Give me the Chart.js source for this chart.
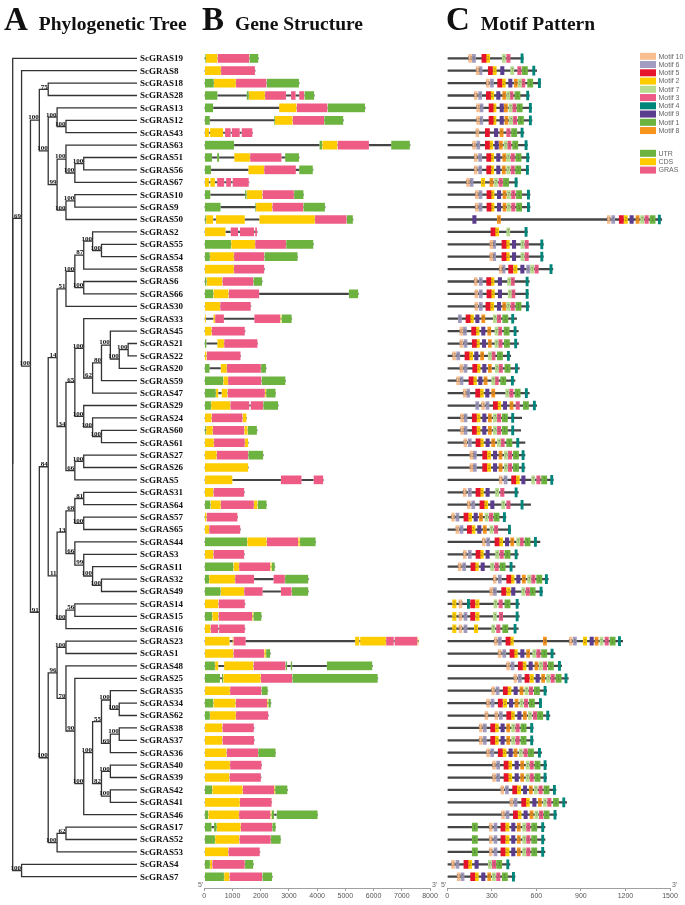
<!DOCTYPE html>
<html>
<head>
<meta charset="utf-8">
<script src="https://cdn.jsdelivr.net/npm/chart.js@4.4.1/dist/chart.umd.min.js"></script>
<style>
  body { margin: 0; background: #fff; width: 685px; height: 905px; position: relative; overflow: hidden; }
  canvas { position: absolute; top: 0; }
  .ttl { position: absolute; top: 0px; font-family: "Liberation Serif", serif; font-weight: bold; color: #111; white-space: nowrap; line-height: 38px; z-index: 2; }
  .ttl .big { font-size: 33px; }
  .ttl .sub { font-size: 19.5px; margin-left: 11px; }
</style>
</head>
<body>
<div class="ttl" style="left:4px"><span class="big">A</span><span class="sub">Phylogenetic Tree</span></div>
<div class="ttl" style="left:202px"><span class="big">B</span><span class="sub">Gene Structure</span></div>
<div class="ttl" style="left:446px"><span class="big">C</span><span class="sub">Motif Pattern</span></div>

<canvas id="tree" width="200" height="905" style="left:0"></canvas>
<canvas id="gene" width="255" height="905" style="left:185px"></canvas>
<canvas id="motif" width="245" height="905" style="left:440px"></canvas>

<script>
// tree topology with bootstrap values
const treeNewick = "(ScGRAS19,(ScGRAS8,(((ScGRAS18,ScGRAS28)75,((ScGRAS13,(ScGRAS12,ScGRAS43)100)100,((ScGRAS63,((ScGRAS51,ScGRAS56)100,ScGRAS67)100)100,((ScGRAS10,ScGRAS9)100,ScGRAS50)100)99)100)100,(((((((ScGRAS2,(ScGRAS55,ScGRAS54)100)100,ScGRAS58)87,(ScGRAS6,ScGRAS66)100)100,ScGRAS30)51,(((ScGRAS33,(((ScGRAS45,((ScGRAS21,ScGRAS22)100,ScGRAS20)100)100,ScGRAS59)80,ScGRAS47)62)100,(ScGRAS29,(ScGRAS24,(ScGRAS60,ScGRAS61)100)100)100)65,((ScGRAS27,ScGRAS26)100,ScGRAS5)66)34)14,((((ScGRAS31,ScGRAS64)81,(ScGRAS57,ScGRAS65)100)68,(ScGRAS44,(ScGRAS3,(ScGRAS11,(ScGRAS32,ScGRAS49)100)100)99)66)13,((ScGRAS14,ScGRAS15)56,ScGRAS16)100)11)84,(((ScGRAS23,ScGRAS1)100,(ScGRAS48,(ScGRAS25,((((ScGRAS35,(ScGRAS34,ScGRAS62)100)100,((ScGRAS38,ScGRAS37)100,ScGRAS36)69)55,((ScGRAS40,ScGRAS39)100,(ScGRAS42,ScGRAS41)100)82)100,ScGRAS46)100)90)70)96,((ScGRAS17,ScGRAS52)62,ScGRAS53)100)100)91)100)69,(ScGRAS4,ScGRAS7)100);";

// rows, top to bottom
const geneNames = ['ScGRAS19','ScGRAS8','ScGRAS18','ScGRAS28','ScGRAS13','ScGRAS12','ScGRAS43','ScGRAS63','ScGRAS51','ScGRAS56',
  'ScGRAS67','ScGRAS10','ScGRAS9','ScGRAS50','ScGRAS2','ScGRAS55','ScGRAS54','ScGRAS58','ScGRAS6','ScGRAS66',
  'ScGRAS30','ScGRAS33','ScGRAS45','ScGRAS21','ScGRAS22','ScGRAS20','ScGRAS59','ScGRAS47','ScGRAS29','ScGRAS24',
  'ScGRAS60','ScGRAS61','ScGRAS27','ScGRAS26','ScGRAS5','ScGRAS31','ScGRAS64','ScGRAS57','ScGRAS65','ScGRAS44',
  'ScGRAS3','ScGRAS11','ScGRAS32','ScGRAS49','ScGRAS14','ScGRAS15','ScGRAS16','ScGRAS23','ScGRAS1','ScGRAS48',
  'ScGRAS25','ScGRAS35','ScGRAS34','ScGRAS62','ScGRAS38','ScGRAS37','ScGRAS36','ScGRAS40','ScGRAS39','ScGRAS42',
  'ScGRAS41','ScGRAS46','ScGRAS17','ScGRAS52','ScGRAS53','ScGRAS4','ScGRAS7'];

// exon models in bp: U = UTR, C = CDS, G = GRAS domain
const exonModels = [
  'U0-50 C50-470 G470-1600 U1600-1920',
  'C0-590 G590-1800',
  'U0-340 C340-1120 G1120-2210 U2210-3360',
  'U0-470 U1500-1580 C1580-2150 G2150-2900 G3070-3240 G3360-3550 U3550-3900',
  'U0-320 C2650-3270 G3270-4370 U4370-5700',
  'U0-200 U2480-2500 C2500-3130 G3130-4250 U4250-4930',
  'C0-170 C200-670 G730-940 G970-1260 G1320-1710',
  'U0-1060 U4080-4180 C4180-4720 G4720-5840 U6620-7290',
  'U0-280 U450-530 C1060-1620 G1620-2740 U2860-3360',
  'U0-240 C1560-2120 G2120-3250 U3360-3850',
  'C0-170 C210-380 G450-710 G770-950 G1000-1580',
  'U0-220 U1440-1500 C1500-2060 G2060-3180 U3180-3520',
  'U0-580 U1800-1830 C1830-2410 G2410-3510 U3510-4280',
  'U0-60 C60-320 C410-1440 C1950-3920 G3920-5050 U5050-5270',
  'C0-760 G930-1200 G1260-1770 G1800-1870',
  'U0-950 C950-1800 G1800-2900 U2900-3870',
  'U0-200 C200-1050 G1050-2130 U2130-3310',
  'C0-1050 G1050-2130',
  'U0-80 C80-640 G640-1740 U1740-2050',
  'U0-320 C320-860 G860-1950 U5120-5460',
  'C0-560 G560-1650',
  'C0-60 C320-380 G380-700 G1770-2700 C2700-2740 U2740-3100',
  'C0-260 G260-1440',
  'U0-80 C460-700 G700-1890',
  'C0-80 G80-1290',
  'U0-190 C580-800 G800-2010 U2010-2190',
  'U0-670 C670-840 G840-2030 U2030-2880',
  'U0-410 C410-500 C610-820 G820-2150 C2150-2190 U2190-2530',
  'U0-240 C240-920 G920-1600 G1640-2090 U2090-2620',
  'C0-260 G260-1360 C1360-1500',
  'U0-60 C60-300 G300-1420 C1420-1540 U1540-1870',
  'C0-340 G340-1440 C1440-1560',
  'C0-440 G440-1560 U1560-2090',
  'C0-1560',
  'C0-1000 G2710-3450 G3870-4220',
  'C0-320 G320-1420',
  'U0-220 C220-580 G580-1760 C1760-1890 U1890-2210',
  'C0-80 G80-1180',
  'C0-170 G170-1280',
  'U0-1520 C1520-2210 G2210-3330 C3330-3390 U3390-3950',
  'C0-320 G320-1420',
  'U0-1030 C1030-1230 G1230-2340 C2340-2390 U2390-2500',
  'U0-170 C170-1090 G1090-1770 G2450-2860 U2860-3690',
  'U0-580 C580-1410 G1410-2070 G2710-3100 U3100-3690',
  'C0-500 G500-1440',
  'U0-280 C280-500 G500-1700 C1700-1740 U1740-2030',
  'C0-220 G220-500 G520-1440',
  'C0-900 C1000-1030 G1030-1470 C5340-5500 C5520-6440 G6440-6720 G6740-7560 C7560-7590',
  'C0-1030 G1030-2130 C2130-2190 U2190-2340',
  'U0-380 C380-500 C700-1740 G1740-2880 U2880-2940 U3060-3120 U4340-5960',
  'U0-560 U620-670 C670-2000 G2000-3120 U3120-6150',
  'C0-910 G910-2030 U2030-2250',
  'U0-320 C320-1110 G1110-2230 C2230-2270 U2270-2360',
  'U0-200 C200-1120 G1120-2270',
  'C0-640 G640-1760',
  'C0-640 G640-1770',
  'C0-790 G790-1910 U1910-2530',
  'C0-910 G910-2030',
  'C0-890 G890-2010',
  'U0-280 C280-1360 G1360-2480 C2480-2510 U2510-2950',
  'C0-1260 G1260-2390',
  'U0-140 C140-1230 G1230-2350 C2350-2390 U2390-2480 U2560-4020',
  'U0-260 U340-440 C440-1290 G1290-2410 U2410-2530',
  'U0-380 C380-1240 G1240-2360 U2360-2710',
  'C0-850 G850-1970',
  'U0-200 C200-280 G280-1440 U1440-1740',
  'U0-700 C700-890 G890-2060 U2060-2410'
];

// protein length (aa)
const proteinLength = [512, 602, 629, 552, 568, 570, 516, 539, 552, 548,
  471, 557, 557, 1444, 539, 647, 647, 711, 552, 546,
  552, 467, 478, 480, 427, 485, 456, 552, 602, 501,
  494, 523, 523, 523, 714, 478, 561, 395, 427, 624,
  478, 456, 680, 642, 485, 485, 478, 1181, 725, 770,
  815, 669, 635, 691, 579, 579, 635, 669, 669, 732,
  804, 736, 658, 658, 658, 422, 456];

// motif id : start (aa)
const motifSites = [
  '10:144 6:169 5:233 2:262 7:370 3:400 4:496',
  '10:195 6:213 5:276 2:307 9:359 7:427 3:474 1:505 4:575',
  '10:263 6:290 5:339 2:368 9:413 8:451 7:478 3:500 1:541 4:613',
  '10:182 6:211 5:263 2:290 9:332 8:373 7:400 3:420 1:455 4:534',
  '10:198 6:220 5:281 2:305 9:355 8:384 7:415 3:440 1:470 4:552',
  '10:198 6:218 5:281 2:305 9:355 8:388 7:418 3:445 1:478 4:552',
  '10:193 5:256 9:317 8:355 3:400 1:433 4:496',
  '10:171 6:198 5:256 2:283 9:321 8:350 7:382 3:406 1:440 4:523',
  '10:182 6:211 5:265 2:290 9:332 8:373 7:400 3:429 1:462 4:534',
  '10:182 6:211 5:265 2:290 9:332 8:370 7:400 3:429 1:460 4:532',
  '10:130 6:153 2:229 8:287 7:317 3:348 1:378 4:456',
  '10:189 6:213 5:267 2:292 9:337 8:375 7:404 3:433 1:466 4:539',
  '10:189 6:213 5:267 2:292 9:337 8:375 7:404 3:433 1:466 4:539',
  '9:171 8:337 10:1078 6:1107 5:1158 2:1190 9:1230 8:1271 7:1302 3:1331 1:1365 4:1421',
  '5:294 2:323 7:400 4:523',
  '10:287 6:305 5:368 2:395 9:438 7:496 3:523 4:629',
  '10:287 6:305 5:368 2:395 9:438 7:496 3:523 4:629',
  '10:350 6:368 5:413 2:447 9:494 6:534 7:561 3:590 4:691',
  '10:182 6:215 5:265 2:292 9:343 7:406 3:429 4:530',
  '10:186 6:215 5:267 2:294 9:343 7:410 3:433 4:530',
  '10:186 6:215 5:260 2:290 9:337 8:373 7:400 3:429 1:462 4:532',
  '6:74 5:126 2:153 9:191 8:232 7:310 3:337 1:373 4:433',
  '10:85 6:108 5:164 2:191 9:231 8:272 7:321 3:343 1:382 4:449',
  '10:85 6:112 5:168 2:193 9:236 8:276 7:321 3:346 1:384 4:453',
  '10:36 6:63 5:119 2:148 9:184 8:224 7:276 3:299 1:337 4:404',
  '10:85 6:112 5:171 2:198 9:238 8:276 7:323 3:348 1:388 4:458',
  '10:63 6:85 5:146 2:173 9:211 8:247 7:299 3:321 1:359 4:431',
  '10:108 6:130 5:191 2:220 9:258 8:299 7:393 3:420 1:456 4:525',
  '6:191 10:231 6:260 5:310 2:337 9:377 8:422 3:463 1:512 4:579',
  '10:90 6:112 5:168 2:198 9:238 8:276 7:310 3:337 1:370 4:433',
  '10:90 6:112 5:168 2:198 9:238 8:276 7:310 3:337 1:370 4:433',
  '10:112 6:141 5:193 2:220 9:260 8:299 7:337 3:361 1:400 4:467',
  '10:153 6:175 5:238 2:269 9:310 8:348 7:384 3:411 1:445 4:503',
  '10:153 6:175 5:238 2:269 9:310 8:348 7:384 3:411 1:445 4:503',
  '10:350 6:382 5:433 2:462 9:501 7:568 3:602 1:635 4:696',
  '10:108 6:141 5:193 2:220 9:260 7:325 3:359 4:456',
  '10:135 6:164 5:220 2:249 9:292 7:366 3:400 4:496',
  '10:29 6:58 5:112 2:141 9:180 8:216 7:254 3:283 1:314 4:377',
  '10:58 6:85 5:135 2:164 9:204 8:242 7:287 3:317 4:411',
  '10:236 6:265 5:321 2:350 9:391 8:427 7:467 3:489 1:523 4:586',
  '10:108 6:141 5:193 2:220 9:260 7:325 3:355 1:388 4:456',
  '10:74 6:103 5:159 2:186 9:227 7:292 3:321 1:355 4:422',
  '10:310 6:343 5:400 2:427 9:467 8:505 7:541 3:568 1:602 4:660',
  '10:287 6:310 5:366 2:400 9:433 7:501 3:530 1:557 4:624',
  '2:36 10:79 4:135 5:157 2:191 7:314 3:348 1:388 4:463',
  '2:36 10:79 6:112 5:157 2:191 7:310 3:350 4:463',
  '2:36 10:79 6:112 2:182 7:299 3:332 1:373 4:449',
  '10:317 6:343 5:395 2:422 8:647 10:822 6:849 2:916 9:961 8:995 7:1028 3:1062 1:1096 4:1152',
  '10:343 6:373 5:422 2:449 9:494 8:534 7:575 3:602 1:635 4:698',
  '10:400 6:429 5:478 2:507 9:550 8:590 7:620 3:647 1:680 4:748',
  '10:449 6:478 5:523 2:557 9:597 8:635 7:669 3:698 1:732 4:792',
  '10:299 6:328 5:377 2:406 9:449 8:489 7:523 3:552 1:586 4:651',
  '10:265 6:294 5:343 2:377 9:418 8:456 7:489 3:519 1:552 4:620',
  '10:254 10:321 6:350 5:400 2:429 9:474 8:512 7:546 3:579 1:608 4:669',
  '10:216 6:242 5:292 2:321 9:361 8:400 7:433 3:462 1:496 4:561',
  '10:216 6:242 5:292 2:321 9:361 8:400 7:433 3:462 1:496 4:561',
  '10:265 6:292 5:343 2:373 9:415 8:449 7:485 3:516 1:546 4:613',
  '10:305 6:332 5:382 2:411 9:456 8:494 7:530 3:557 1:590 4:651',
  '10:305 6:332 5:382 2:411 9:456 8:494 7:530 3:557 1:590 4:651',
  '10:361 6:391 5:440 2:471 9:512 8:552 7:586 3:617 1:651 4:714',
  '10:422 6:449 5:501 2:530 9:575 8:613 7:647 3:676 1:714 4:777',
  '10:366 6:395 5:445 2:474 9:516 8:557 7:590 3:620 1:651 4:718',
  '1:168 10:283 6:314 5:361 2:393 9:433 8:471 7:507 3:534 1:568 4:635',
  '1:168 10:283 6:314 5:361 2:393 9:433 8:471 7:507 3:534 1:568 4:635',
  '1:168 10:283 6:314 5:361 2:393 9:433 8:471 7:507 3:534 1:568 4:635',
  '10:29 6:58 5:112 2:141 9:186 7:276 3:303 1:332 4:400',
  '10:67 6:92 5:157 2:186 9:231 8:272 7:303 3:332 1:370 4:438'
];

const motifIds = ['10', '6', '5', '2', '7', '3', '4', '9', '1', '8'];
const motifWidth = [19, 21, 28, 23, 21, 23, 15, 23, 35, 21]; // aa
const motifColors = ['#F9BE8F', '#A29DC0', '#E5132B', '#FFCC00', '#B7DC8E', '#EC5B86', '#00857A', '#5B3D8D', '#6DB33F', '#F7941D'];

const featureKeys = ['U', 'C', 'G'];
const featureNames = ['UTR', 'CDS', 'GRAS'];
const featureColors = ['#6DB33F', '#FFCC00', '#EE5B85'];

const geneTicks = [0, 1000, 2000, 3000, 4000, 5000, 6000, 7000, 8000];
const motifTicks = [0, 300, 600, 900, 1200, 1500];

// ---------- shared row axis ----------
const rowAxis = { type: 'linear', min: -0.5, max: 66.91, reverse: true, display: false, offset: false };
const rowOf = name => geneNames.indexOf(name);

// ---------- tree ----------
function parseNewick(s) {
  let i = 0;
  function node() {
    const n = { children: [], name: '', label: '' };
    if (s[i] === '(') {
      i++;
      n.children.push(node());
      while (s[i] === ',') { i++; n.children.push(node()); }
      i++;
    }
    let t = '';
    while (i < s.length && !',();'.includes(s[i])) t += s[i++];
    if (n.children.length) n.label = t; else n.name = t;
    return n;
  }
  return node();
}

const root = parseNewick(treeNewick);
let maxInner = 0;
(function depth(n, d) {
  n.depth = d;
  if (n.children.length) maxInner = Math.max(maxInner, d);
  n.children.forEach(c => depth(c, d + 1));
})(root, 0);
const tipLevel = maxInner + 1;

const leaves = [], inner = [];
(function place(n) {
  if (!n.children.length) {
    n.x = tipLevel; n.y = rowOf(n.name); leaves.push(n); return;
  }
  n.children.forEach(place);
  n.x = n.depth;
  n.y = (n.children[0].y + n.children[n.children.length - 1].y) / 2;
  inner.push(n);
})(root);

const treeSets = [];
(function edges(n) {
  n.children.forEach(c => {
    treeSets.push({
      data: [{ x: n.x, y: n.y }, { x: n.x, y: c.y }, { x: c.x, y: c.y }],
      showLine: true, borderColor: '#333', borderWidth: 1.3, pointRadius: 0,
      borderJoinStyle: 'miter', tension: 0, fill: false, clip: false
    });
    edges(c);
  });
})(root);

const treeText = {
  id: 'treeText',
  afterDatasetsDraw(chart) {
    const { ctx, scales: { x, y } } = chart;
    ctx.save();
    ctx.fillStyle = '#111';
    ctx.textBaseline = 'middle';
    ctx.font = 'bold 9px "Liberation Serif"';
    leaves.forEach(l => ctx.fillText(l.name, x.getPixelForValue(tipLevel) + 3, y.getPixelForValue(l.y) + 0.5));
    ctx.font = 'bold 7px "Liberation Serif"';
    ctx.textAlign = 'right';
    inner.forEach(n => {
      if (n.label) ctx.fillText(n.label, x.getPixelForValue(n.x) - 0.5, y.getPixelForValue(n.y) - 2.5);
    });
    ctx.restore();
  }
};

new Chart(document.getElementById('tree'), {
  type: 'scatter',
  data: { datasets: treeSets },
  options: {
    responsive: false,
    animation: false,
    layout: { padding: { left: 12.7, right: 63, top: 52.1, bottom: 17 } },
    plugins: { legend: { display: false }, tooltip: { enabled: false } },
    scales: {
      x: { type: 'linear', min: 0, max: tipLevel, display: false },
      y: rowAxis
    }
  },
  plugins: [treeText]
});

// ---------- helpers for the two bar panels ----------
function bottomAxis(max, ticks) {
  return {
    type: 'linear', min: 0, max: max,
    afterBuildTicks: a => { a.ticks = ticks.map(v => ({ value: v })); },
    afterFit: a => { a.height = 17; a.paddingLeft = 0; a.paddingRight = 0; },
    ticks: {
      color: '#555', font: { size: 7, family: '"Liberation Sans", Arial' }, padding: 1,
      maxRotation: 0, autoSkip: false, callback: v => String(v)
    },
    grid: { drawOnChartArea: false, drawTicks: true, tickLength: 3, color: '#a0a0a0' },
    border: { color: '#a0a0a0', width: 1 }
  };
}

const endLabels = {
  id: 'endLabels',
  afterDraw(chart) {
    const { ctx, scales: { x } } = chart;
    ctx.save();
    ctx.fillStyle = '#666';
    ctx.font = '7px "Liberation Sans", Arial';
    ctx.textBaseline = 'bottom';
    ctx.textAlign = 'right';
    ctx.fillText("5'", x.left - 1, x.top + 1);
    ctx.textAlign = 'left';
    ctx.fillText("3'", x.right + 2, x.top + 1);
    ctx.restore();
  }
};

// ---------- gene structure ----------
const exonParsed = exonModels.map(m => m.split(' ').map(t => {
  const [s, e] = t.slice(1).split('-').map(Number);
  return { type: t[0], s, e };
}));

const geneSets = [{
  label: 'intron',
  data: exonParsed.map((segs, i) => ({ x: [0, Math.max(...segs.map(g => g.e))], y: i })),
  backgroundColor: '#444', barThickness: 1.4, grouped: false, order: 10
}];
featureKeys.forEach((k, f) => {
  const data = [];
  exonParsed.forEach((segs, i) => segs.forEach(g => { if (g.type === k) data.push({ x: [g.s, g.e], y: i }); }));
  geneSets.push({
    label: featureNames[f], data,
    backgroundColor: featureColors[f], borderColor: 'rgba(255,255,255,0.45)', borderWidth: 0.5,
    borderSkipped: false, barThickness: 9, grouped: false, order: 1
  });
});

new Chart(document.getElementById('gene'), {
  type: 'bar',
  data: { datasets: geneSets },
  options: {
    indexAxis: 'y',
    responsive: false,
    animation: false,
    layout: { padding: { left: 19.3, right: 10, top: 52.1, bottom: 0 } },
    plugins: { legend: { display: false }, tooltip: { enabled: false } },
    scales: { x: bottomAxis(8000, geneTicks), y: rowAxis }
  },
  plugins: [endLabels]
});

// ---------- motif pattern ----------
const motifParsed = motifSites.map(m => m.split(' ').map(t => {
  const [id, s] = t.split(':');
  return { id, s: Number(s) };
}));

const motifSets = [{
  label: 'protein',
  data: proteinLength.map((len, i) => ({ x: [0, len], y: i })),
  backgroundColor: '#454545', barThickness: 1.6, grouped: false, order: 10
}];
motifIds.forEach((id, k) => {
  const data = [];
  motifParsed.forEach((sites, i) => sites.forEach(m => {
    if (m.id === id) data.push({ x: [m.s, m.s + motifWidth[k]], y: i });
  }));
  motifSets.push({
    label: 'Motif ' + id, motifId: id, data,
    backgroundColor: motifColors[k], borderWidth: 0,
    barThickness: id === '4' ? 9 : 8, grouped: false, order: 1
  });
});

const motifExtras = {
  id: 'motifExtras',
  afterDatasetsDraw(chart) {
    const ctx = chart.ctx;
    ctx.save();
    // motif numbers inside the boxes
    ctx.font = '4.5px "Liberation Sans", Arial';
    ctx.textAlign = 'center';
    ctx.textBaseline = 'middle';
    chart.data.datasets.forEach((ds, di) => {
      if (!ds.motifId || ['5', '4', '9'].includes(ds.motifId)) return;
      ctx.fillStyle = 'rgba(70,70,70,0.6)';
      chart.getDatasetMeta(di).data.forEach(el => {
        ctx.fillText(ds.motifId, (el.x + el.base) / 2, el.y + 0.3);
      });
    });
    // legend
    ctx.font = '7px "Liberation Sans", Arial';
    ctx.textAlign = 'left';
    motifIds.forEach((id, k) => {
      const cy = 56.3 + k * 8.25;
      ctx.fillStyle = motifColors[k];
      ctx.fillRect(200, cy - 3.5, 16, 7);
      ctx.fillStyle = '#666';
      ctx.fillText('Motif ' + id, 218.5, cy + 0.3);
    });
    featureNames.forEach((name, k) => {
      const cy = 153.3 + k * 8.4;
      ctx.fillStyle = featureColors[k];
      ctx.fillRect(200, cy - 3.5, 16, 7);
      ctx.fillStyle = '#666';
      ctx.fillText(name, 218.5, cy + 0.3);
    });
    ctx.restore();
  }
};

new Chart(document.getElementById('motif'), {
  type: 'bar',
  data: { datasets: motifSets },
  options: {
    indexAxis: 'y',
    responsive: false,
    animation: false,
    layout: { padding: { left: 7.3, right: 15, top: 52.1, bottom: 0 } },
    plugins: { legend: { display: false }, tooltip: { enabled: false } },
    scales: { x: bottomAxis(1500, motifTicks), y: rowAxis }
  },
  plugins: [endLabels, motifExtras]
});
</script>
</body>
</html>
